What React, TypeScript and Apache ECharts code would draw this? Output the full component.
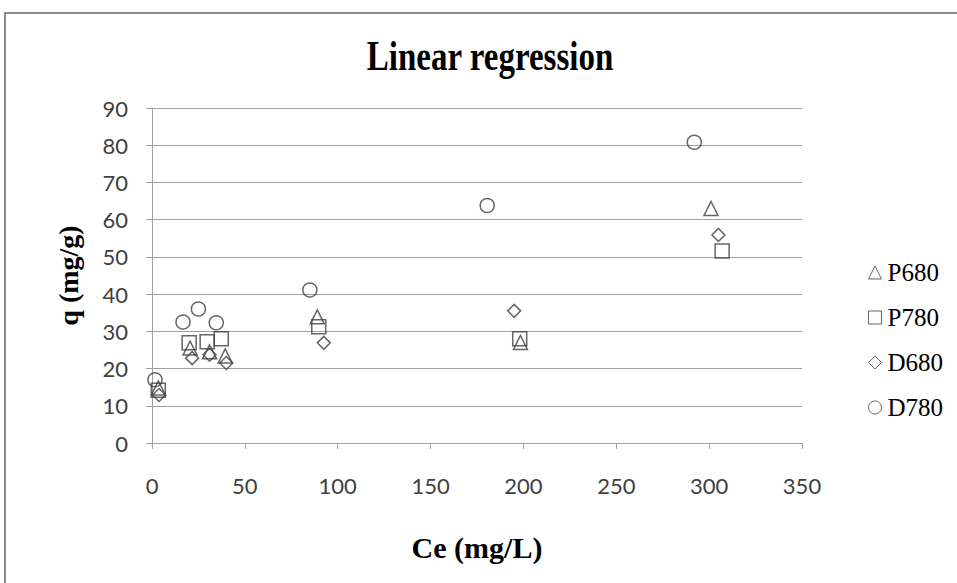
import React, { useEffect, useRef } from "react";
import * as echarts from "echarts";

const seriesNames = ["P680", "P780", "D680", "D780"];
const seriesSymbols = ["triangle", "rect", "diamond", "circle"];

const p680 = [
  [3.4, 14.8], [20.5, 25.5], [31, 24.5], [39.4, 23.4], [89, 33.9], [198.4, 27], [301, 63],
];
const p780 = [
  [3.4, 14.2], [20, 26.9], [29.7, 27.2], [37.3, 28], [89.8, 31.2], [198, 28], [307, 51.6],
];
const d680 = [
  [3.8, 12.9], [21.6, 22.8], [31, 23.7], [40, 21.5], [92.5, 26.9], [195, 35.5], [305, 55.9],
];
const d780 = [
  [1.6, 17], [16.7, 32.5], [25, 36], [34.6, 32.3], [85, 41.1], [180.5, 63.8], [292, 80.8],
];

const seriesData = [p680, p780, d680, d780];

const xTicks = { min: 0, max: 350, interval: 50 };
const yTicks = { min: 0, max: 90, interval: 10 };

const titleText = "Linear regression";
const xName = "Ce (mg/L)";
const yName = "q (mg/g)";

export default function App() {
  const ref = useRef<HTMLDivElement>(null);
  useEffect(() => {
    if (!ref.current) return;
    const chart = echarts.init(ref.current, null, { renderer: "svg" });
    const gray = "#a0a0a0";
    const markerColor = "#404040";
    chart.setOption({
      animation: false,
      backgroundColor: "#ffffff",
      graphic: [
        {
          type: "rect",
          shape: { x: 5, y: 13, width: 980, height: 600 },
          style: { fill: "none", stroke: "#8a8a8a", lineWidth: 2 },
          silent: true,
        },
        {
          type: "text",
          x: 490,
          y: 55,
          scaleY: 1.3,
          style: {
            text: titleText,
            fontFamily: "Liberation Serif",
            fontWeight: "bold",
            fontSize: 33,
            fill: "#000",
            align: "center",
            verticalAlign: "middle",
          },
          silent: true,
        },
      ],
      legend: {
        orient: "vertical",
        left: 863,
        top: 255,
        itemWidth: 13,
        itemHeight: 13,
        itemGap: 20,
        textStyle: {
          fontFamily: "Liberation Serif",
          fontSize: 25,
          color: "#000",
          padding: [0, 0, 0, 1],
        },
        data: seriesNames.map((n, i) => ({
          name: n,
          icon: seriesSymbols[i],
          itemStyle: { color: "transparent", borderColor: markerColor, borderWidth: 1 },
        })),
      },
      grid: { left: 152, right: 155, top: 108, bottom: 140, containLabel: false },
      xAxis: {
        type: "value",
        min: xTicks.min,
        max: xTicks.max,
        interval: xTicks.interval,
        name: xName,
        nameLocation: "middle",
        nameGap: 89,
        nameTextStyle: {
          fontFamily: "Liberation Serif",
          fontWeight: "bold",
          fontSize: 30,
          color: "#000",
        },
        axisLine: { show: true, onZero: false, lineStyle: { color: gray, width: 1 } },
        axisTick: { show: true, inside: false, length: 6, lineStyle: { color: gray } },
        axisLabel: {
          fontFamily: "Lato",
          fontSize: 22,
          color: "#404040",
          margin: 31,
        },
        splitLine: { show: false },
      },
      yAxis: {
        type: "value",
        min: yTicks.min,
        max: yTicks.max,
        interval: yTicks.interval,
        name: yName,
        nameLocation: "middle",
        nameGap: 70,
        nameRotate: 90,
        nameTextStyle: {
          fontFamily: "Liberation Serif",
          fontWeight: "bold",
          fontSize: 28,
          color: "#000",
        },
        axisLine: { show: true, onZero: false, lineStyle: { color: gray, width: 1 } },
        axisTick: { show: true, inside: false, length: 6, lineStyle: { color: gray } },
        axisLabel: {
          fontFamily: "Lato",
          fontSize: 22,
          color: "#404040",
          margin: 24,
        },
        splitLine: { show: true, lineStyle: { color: gray, width: 1 } },
      },
      series: seriesNames.map((n, i) => ({
        name: n,
        type: "scatter",
        symbol: seriesSymbols[i],
        symbolSize: seriesSymbols[i] === "diamond" ? 13 : 14,
        data: seriesData[i],
        itemStyle: { color: "transparent", borderColor: markerColor, borderWidth: 1.5 },
        emphasis: { disabled: true },
      })),
    });
    return () => chart.dispose();
  }, []);
  return (
    <div
      ref={ref}
      style={{ position: "fixed", left: 0, top: 0, width: 957, height: 583 }}
    />
  );
}
